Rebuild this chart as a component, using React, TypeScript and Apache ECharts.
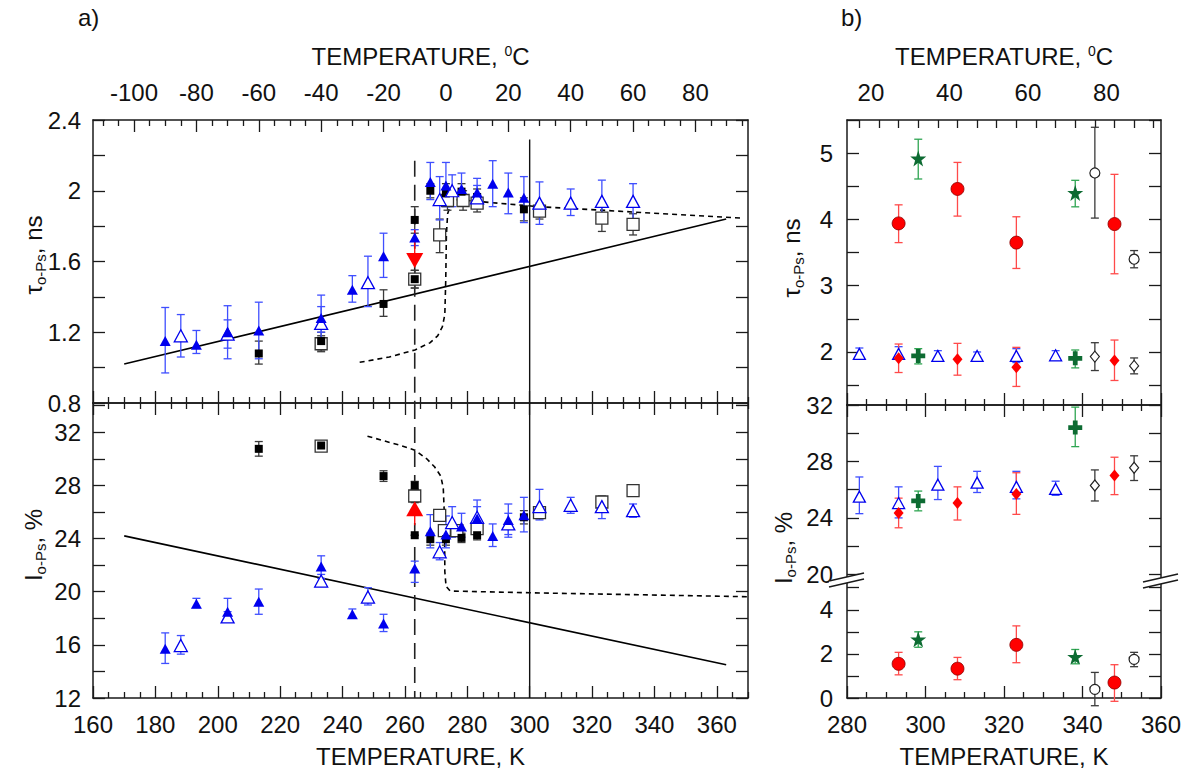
import React, { useEffect, useRef } from 'react';
import * as echarts from 'echarts';

// ---------- axis tick labels ----------
const kMajorA = [160, 180, 200, 220, 240, 260, 280, 300, 320, 340, 360];
const cLabelsA = [-100, -80, -60, -40, -20, 0, 20, 40, 60, 80];
const kMajorB = [280, 300, 320, 340, 360];
const cLabelsB = [20, 40, 60, 80];
const tauLabelsA = [0.8, 1.2, 1.6, 2, 2.4];
const iLabelsA = [12, 16, 20, 24, 28, 32];
const tauLabelsB = [2, 3, 4, 5];
const iUpperLabelsB = [20, 24, 28, 32];
const iLowerLabelsB = [0, 2, 4];

// ---------- panel a, tau (K, tau, low, high) ----------
const aTauBlueFilled = [
  [183.15, 1.15, 0.97, 1.34], [193.15, 1.13, 1.08, 1.21], [203.15, 1.2, 1.11, 1.27],
  [213.15, 1.21, 1.05, 1.37], [233.15, 1.28, 1.15, 1.41], [243.15, 1.44, 1.37, 1.52],
  [253.15, 1.63, 1.51, 1.76], [263.15, 1.735, 1.69, 1.78], [268.15, 2.05, 1.95, 2.16],
  [273.15, 2.03, 1.91, 2.16], [278.15, 2.01, 1.94, 2.1], [283.15, 1.99, 1.91, 2.07],
  [288.15, 2.04, 1.91, 2.17], [293.15, 1.99, 1.87, 2.1], [298.15, 1.96, 1.82, 2.08],
];
const aTauBlueOpen = [
  [188.15, 1.18, 1.06, 1.3], [203.15, 1.19, 1.05, 1.35], [233.15, 1.25, 1.2, 1.345],
  [248.15, 1.48, 1.345, 1.63], [271.15, 1.95, 1.835, 2.08], [275.15, 2.0, 1.91, 2.09],
  [283.15, 1.96, 1.9, 2.03], [303.15, 1.93, 1.81, 2.05], [313.15, 1.93, 1.86, 2.01],
  [323.15, 1.94, 1.85, 2.06], [333.15, 1.94, 1.835, 2.04],
];
const aTauBlackFilled = [
  [213.15, 1.08, 1.02, 1.15], [233.15, 1.15, 1.1, 1.2], [253.15, 1.36, 1.29, 1.44],
  [263.15, 1.835, 1.76, 1.91], [263.15, 1.5, 1.45, 1.55], [268.15, 2.0, 1.96, 2.04],
  [273.15, 1.985, 1.94, 2.04], [278.15, 1.995, 1.95, 2.04], [283.15, 1.965, 1.92, 2.01],
  [298.15, 1.895, 1.83, 1.96],
];
const aTauBlackOpen = [
  [233.15, 1.135, 1.09, 1.18], [263.15, 1.5, 1.45, 1.55], [271.15, 1.75, 1.65, 1.84],
  [273.65, 1.945, 1.89, 2.0], [278.65, 1.945, 1.89, 2.0], [283.15, 1.93, 1.88, 1.98],
  [303.15, 1.885, 1.84, 1.93], [323.15, 1.845, 1.77, 1.92], [333.15, 1.81, 1.75, 1.87],
];
const aTauRed = [[263.15, 1.605, 1.605, 1.78]];
const aTauFit = [[170, 1.02], [363, 1.84]];
const aTauModel = [
  [245.5, 1.03], [255, 1.06], [263.2, 1.1], [268, 1.14], [270.5, 1.18], [272, 1.23],
  [272.8, 1.3], [273.1, 1.5], [273.3, 1.75], [273.7, 1.87], [274.8, 1.93], [276.5, 1.95],
  [303, 1.91], [368, 1.845],
];
const aTauVDash = [[263.15, 2.17], [263.15, 0.8]];
const aTauVSolid = [[300, 2.29], [300, 0.8]];

// ---------- panel a, intensity (K, I, low, high) ----------
const aIBlueFilled = [
  [183.15, 15.7, 14.6, 16.9], [193.15, 19.1, 18.8, 19.5], [203.15, 18.5, 17.8, 19.5],
  [213.15, 19.25, 18.3, 20.2], [233.15, 21.9, 21.0, 22.7], [243.15, 18.3, 18.0, 18.7],
  [253.15, 17.6, 17.0, 18.3], [263.15, 21.75, 20.7, 22.3], [268.15, 24.55, 23.3, 25.8],
  [273.15, 24.3, 23.3, 25.7], [278.15, 24.9, 24.1, 25.9], [283.15, 25.5, 24.6, 26.9],
  [288.15, 24.2, 23.4, 25.1], [293.15, 25.4, 24.1, 26.6], [298.15, 25.75, 24.5, 27.1],
];
const aIBlueOpen = [
  [188.15, 15.95, 15.3, 16.7], [203.15, 18.1, 17.8, 18.5], [233.15, 20.8, 20.4, 21.3],
  [248.15, 19.6, 19.0, 20.3], [271.15, 23.0, 22.4, 23.7], [275.15, 25.2, 24.1, 26.4],
  [283.15, 25.6, 24.9, 26.4], [293.15, 25.1, 24.3, 25.9], [303.15, 26.4, 25.4, 27.7],
  [313.15, 26.5, 25.9, 27.1], [323.15, 26.4, 25.5, 27.1], [333.15, 26.1, 25.6, 26.6],
];
const aIBlackFilled = [
  [213.15, 30.75, 30.2, 31.3], [233.15, 31.0, 30.7, 31.3], [253.15, 28.7, 28.3, 29.1],
  [263.15, 28.0, 27.7, 28.3], [263.15, 24.25, 24.25, 24.25], [268.15, 23.95, 23.5, 24.4],
  [273.15, 23.95, 23.5, 24.4], [278.15, 24.05, 23.7, 24.4], [283.15, 24.25, 23.9, 24.6],
  [298.15, 25.6, 25.1, 26.1],
];
const aIBlackOpen = [
  [233.15, 30.95, 30.7, 31.2], [263.15, 27.2, 26.7, 27.7], [271.15, 25.75, 25.4, 26.1],
  [272.65, 24.6, 24.2, 25.0], [276.65, 24.6, 24.2, 25.0], [283.15, 24.75, 24.4, 25.1],
  [303.15, 25.95, 25.5, 26.4], [323.15, 26.75, 26.3, 27.2], [333.15, 27.6, 27.3, 27.9],
];
const aIRed = [[263.15, 26.25, 25.0, 26.25]];
const aIFit = [[170, 24.2], [363, 14.5]];
const aIModel = [
  [248, 31.7], [258.7, 31.0], [263.2, 30.65], [267, 30.0], [269.5, 29.4], [271.5, 28.7],
  [272.3, 27.8], [272.7, 25.5], [272.8, 21.5], [273.2, 20.4], [274.5, 20.05],
  [300, 19.92], [370, 19.62],
];
const aIVDash = [[263.15, 34.2], [263.15, 12]];
const aIVSolid = [[300, 34.2], [300, 12]];

// ---------- panel b, tau ----------
const bTauRedCircle = [
  [293.15, 3.94, 3.65, 4.22], [308.15, 4.46, 4.05, 4.86], [323.15, 3.65, 3.26, 4.04], [348.15, 3.93, 3.18, 4.68],
];
const bTauGreenStar = [[298.15, 4.92, 4.61, 5.21], [338.15, 4.4, 4.19, 4.59]];
const bTauBlackCircle = [[343.15, 4.7, 4.02, 5.39], [353.15, 3.4, 3.27, 3.53]];
const bTauBlueOpen = [
  [283.15, 1.97, 1.9, 2.06], [293.15, 1.97, 1.89, 2.08], [303.15, 1.94, 1.86, 2.02],
  [313.15, 1.94, 1.87, 2.0], [323.15, 1.94, 1.84, 2.05], [333.15, 1.95, 1.88, 2.02],
];
const bTauRedDiamond = [
  [293.15, 1.905, 1.69, 2.12], [308.15, 1.89, 1.65, 2.13], [323.15, 1.77, 1.48, 2.07], [348.15, 1.87, 1.57, 2.18],
];
const bTauGreenCross = [[298.15, 1.94, 1.82, 2.05], [338.15, 1.905, 1.76, 2.03]];
const bTauBlackDiamond = [[343.15, 1.93, 1.72, 2.14], [353.15, 1.79, 1.67, 1.91]];

// ---------- panel b, intensity (upper part) ----------
const bIBlueOpen = [
  [283.15, 25.5, 24.3, 26.9], [293.15, 25.05, 24.0, 26.2], [303.15, 26.35, 25.3, 27.65],
  [313.15, 26.5, 25.8, 27.3], [323.15, 26.2, 25.35, 27.3], [333.15, 26.05, 25.6, 26.6],
];
const bIRedDiamond = [
  [293.15, 24.35, 23.3, 25.4], [308.15, 25.05, 23.85, 26.2], [323.15, 25.7, 24.25, 27.2], [348.15, 27.0, 25.65, 28.3],
];
const bIGreenCross = [[298.15, 25.2, 24.5, 25.9], [338.15, 30.4, 29.05, 31.85]];
const bIBlackDiamond = [[343.15, 26.3, 25.2, 27.4], [353.15, 27.55, 26.65, 28.4]];

// ---------- panel b, intensity (lower part) ----------
const bIRedCircle = [
  [293.15, 1.55, 1.05, 2.07], [308.15, 1.33, 0.83, 1.84], [323.15, 2.41, 1.6, 3.27], [348.15, 0.7, -0.15, 1.51],
];
const bIGreenStar = [[298.15, 2.66, 2.3, 3.0], [338.15, 1.87, 1.55, 2.2]];
const bIBlackCircle = [[343.15, 0.39, -0.35, 1.16], [353.15, 1.75, 1.42, 2.07]];

// ---------- styling ----------
const FONT = '"Liberation Sans", Arial, Helvetica, sans-serif';
const INK = '#1a1a1a';
const LBL = { fontSize: 24, color: '#111', fontFamily: FONT };
const BLUE = '#0000ee';
const BLUE_E = '#3f4fff';
const BLACK_E = '#3a3a3a';
const RED = '#ff0000';
const RED_E = '#ff4a4a';
const GREEN = '#0d6b32';
const GREEN_E = '#2fa552';
const STAR = 'path://M50,0 L61.8,35.1 L98.1,35.1 L68.8,56.8 L79.4,91.2 L50,70 L20.6,91.2 L31.2,56.8 L1.9,35.1 L38.2,35.1 Z';
const PLUS = 'path://M33,0 H67 V33 H100 V67 H67 V100 H33 V67 H0 V33 H33 Z';

function steps(a: number, b: number, s: number) {
  const r: number[] = [];
  const n = Math.round((b - a) / s);
  for (let i = 0; i <= n; i++) r.push(+(a + i * s).toFixed(4));
  return r;
}
function minus(arr: number[], ex: number[]) {
  return arr.filter((v) => !ex.some((e) => Math.abs(e - v) < 1e-6));
}

function ax(o: any) {
  return {
    type: 'value', gridIndex: o.grid, position: o.pos, min: o.min, max: o.max,
    axisLine: { show: o.line !== false, onZero: false, lineStyle: { color: INK, width: 1.5 } },
    axisTick: o.ticks && o.ticks.length
      ? { show: true, inside: true, length: o.len ?? 12, customValues: o.ticks, lineStyle: { color: INK, width: 1.3 } }
      : { show: false },
    minorTick: { show: false },
    splitLine: { show: false },
    axisLabel: o.labels ? { show: true, customValues: o.labels, margin: o.margin ?? 12, ...LBL } : { show: false },
    name: o.name, nameLocation: 'middle', nameGap: o.nameGap ?? 40,
    nameTextStyle: { ...LBL, rich: { sup: { fontSize: 14, verticalAlign: 'top', fontFamily: FONT, color: '#111' } } },
  };
}

function eb(data: number[][], xi: number, yi: number, color: string, cap = 4) {
  return {
    type: 'custom', xAxisIndex: xi, yAxisIndex: yi, data, clip: false, silent: true, z: 3,
    encode: { x: 0, y: 1 },
    renderItem: (_p: any, api: any) => {
      const x = api.value(0), lo = api.value(2), hi = api.value(3);
      const a = api.coord([x, lo]), b = api.coord([x, hi]);
      const st = { stroke: color, lineWidth: 1.3 };
      const ch: any[] = [{ type: 'line', shape: { x1: a[0], y1: a[1], x2: b[0], y2: b[1] }, style: st }];
      if (cap > 0) {
        ch.push({ type: 'line', shape: { x1: a[0] - cap, y1: a[1], x2: a[0] + cap, y2: a[1] }, style: st });
        ch.push({ type: 'line', shape: { x1: b[0] - cap, y1: b[1], x2: b[0] + cap, y2: b[1] }, style: st });
      }
      return { type: 'group', children: ch };
    },
  };
}

function sc(data: number[][], xi: number, yi: number, symbol: string, size: any, color: string, border?: string, bw = 0, rotate = 0, z = 5) {
  return {
    type: 'scatter', xAxisIndex: xi, yAxisIndex: yi, silent: true, z,
    data: data.map((d) => [d[0], d[1]]),
    symbol, symbolSize: size, symbolRotate: rotate,
    itemStyle: { color, borderColor: border || color, borderWidth: bw, opacity: 1 },
  };
}

function ln(data: number[][], xi: number, yi: number, type: any, width = 1.5, color = '#000') {
  return {
    type: 'line', xAxisIndex: xi, yAxisIndex: yi, data, symbol: 'none', silent: true, z: 2,
    lineStyle: { color, width, type }, clip: true,
  };
}

function yName(x: number, y: number, main: string, sub: string, tail: string) {
  return {
    type: 'text', x, y, rotation: Math.PI / 2,
    style: {
      text: `{m|${main}}{s|${sub}}{m|${tail}}`,
      align: 'center', verticalAlign: 'middle',
      rich: {
        m: { fontSize: 24, fontFamily: FONT, fill: '#111', lineHeight: 30 },
        s: { fontSize: 15, fontFamily: FONT, fill: '#111', padding: [14, 0, 0, 0], lineHeight: 30 },
      },
    },
  };
}

function buildOption() {
  const kMinA = minus(steps(165, 370, 5), kMajorA);
  const cMinA = minus(steps(-110, 95, 5), cLabelsA);
  const kMinB = minus(steps(285, 355, 5), kMajorB);
  const cName = 'TEMPERATURE, {sup|0}C';

  const xAxis = [
    ax({ grid: 0, pos: 'bottom', min: 160, max: 370, ticks: kMajorA }), // 0
    ax({ grid: 0, pos: 'bottom', min: 160, max: 370, ticks: kMinA, len: 6, line: false }), // 1
    ax({ grid: 0, pos: 'top', min: 160 - 273.15, max: 370 - 273.15, ticks: cLabelsA, labels: cLabelsA, name: cName, nameGap: 52, margin: 16 }), // 2
    ax({ grid: 0, pos: 'top', min: 160 - 273.15, max: 370 - 273.15, ticks: cMinA, len: 6, line: false }), // 3
    ax({ grid: 1, pos: 'bottom', min: 160, max: 370, ticks: kMajorA, labels: kMajorA, name: 'TEMPERATURE, K', nameGap: 46, margin: 14 }), // 4
    ax({ grid: 1, pos: 'bottom', min: 160, max: 370, ticks: kMinA, len: 6, line: false }), // 5
    ax({ grid: 1, pos: 'top', min: 160, max: 370, ticks: kMajorA }), // 6
    ax({ grid: 1, pos: 'top', min: 160, max: 370, ticks: kMinA, len: 6, line: false }), // 7
    ax({ grid: 2, pos: 'bottom', min: 280, max: 360, ticks: kMajorB }), // 8
    ax({ grid: 2, pos: 'bottom', min: 280, max: 360, ticks: kMinB, len: 6, line: false }), // 9
    ax({ grid: 2, pos: 'top', min: 280 - 273.15, max: 360 - 273.15, ticks: steps(10, 85, 5), len: 8 }), // 10
    ax({ grid: 2, pos: 'top', min: 13.9, max: 93.9, labels: cLabelsB, line: false, name: cName, nameGap: 52, margin: 16 }), // 11
    ax({ grid: 3, pos: 'top', min: 280, max: 360, ticks: kMajorB }), // 12
    ax({ grid: 3, pos: 'top', min: 280, max: 360, ticks: kMinB, len: 6, line: false }), // 13
    ax({ grid: 4, pos: 'bottom', min: 280, max: 360, ticks: kMajorB, labels: kMajorB, name: 'TEMPERATURE, K', nameGap: 46, margin: 14 }), // 14
    ax({ grid: 4, pos: 'bottom', min: 280, max: 360, ticks: kMinB, len: 6, line: false }), // 15
  ];

  const yAxis = [
    ax({ grid: 0, pos: 'left', min: 0.8, max: 2.4, ticks: steps(0.8, 2.4, 0.2), labels: tauLabelsA }), // 0
    ax({ grid: 0, pos: 'right', min: 0.8, max: 2.4, ticks: steps(0.8, 2.4, 0.2) }), // 1
    ax({ grid: 1, pos: 'left', min: 12, max: 34.2, ticks: steps(12, 34, 2), labels: iLabelsA }), // 2
    ax({ grid: 1, pos: 'right', min: 12, max: 34.2, ticks: steps(12, 34, 2) }), // 3
    ax({ grid: 2, pos: 'left', min: 1.2, max: 5.5, ticks: steps(1.5, 5.5, 0.5), labels: tauLabelsB, margin: 14 }), // 4
    ax({ grid: 2, pos: 'right', min: 1.2, max: 5.5, ticks: steps(1.5, 5.5, 0.5) }), // 5
    ax({ grid: 3, pos: 'left', min: 19.6, max: 32, ticks: steps(20, 32, 2), labels: iUpperLabelsB, margin: 14 }), // 6
    ax({ grid: 3, pos: 'right', min: 19.6, max: 32, ticks: steps(20, 32, 2) }), // 7
    ax({ grid: 4, pos: 'left', min: 0, max: 5.35, ticks: steps(0, 5, 1), labels: iLowerLabelsB, margin: 14 }), // 8
    ax({ grid: 4, pos: 'right', min: 0, max: 5.35, ticks: steps(0, 5, 1) }), // 9
  ];

  const series: any[] = [
    // panel a, tau
    ln(aTauFit, 0, 0, 'solid', 1.6),
    ln(aTauModel, 0, 0, [5, 4], 1.6),
    ln(aTauVDash, 0, 0, [16, 8], 1.6, '#222'),
    ln(aTauVSolid, 0, 0, 'solid', 1.4, '#111'),
    eb(aTauBlackOpen, 0, 0, BLACK_E),
    eb(aTauBlackFilled, 0, 0, BLACK_E),
    eb(aTauBlueOpen, 0, 0, BLUE_E),
    eb(aTauBlueFilled, 0, 0, BLUE_E),
    eb(aTauRed, 0, 0, RED, 0),
    sc(aTauBlackOpen, 0, 0, 'rect', 12, '#fff', '#333', 1.3),
    sc(aTauBlackFilled, 0, 0, 'rect', 8, '#000'),
    sc(aTauBlueOpen, 0, 0, 'triangle', [13, 12], '#fff', BLUE, 1.3),
    sc(aTauBlueFilled, 0, 0, 'triangle', [11, 10], BLUE),
    sc(aTauRed, 0, 0, 'triangle', [17, 15], RED, RED, 0, 180, 6),
    // panel a, intensity
    ln(aIFit, 4, 2, 'solid', 1.6),
    ln(aIModel, 4, 2, [5, 4], 1.6),
    ln(aIVDash, 4, 2, [16, 8], 1.6, '#222'),
    ln(aIVSolid, 4, 2, 'solid', 1.4, '#111'),
    eb(aIBlackOpen, 4, 2, BLACK_E),
    eb(aIBlackFilled, 4, 2, BLACK_E),
    eb(aIBlueOpen, 4, 2, BLUE_E),
    eb(aIBlueFilled, 4, 2, BLUE_E),
    eb(aIRed, 4, 2, RED, 0),
    sc(aIBlackOpen, 4, 2, 'rect', 12, '#fff', '#333', 1.3),
    sc(aIBlackFilled, 4, 2, 'rect', 8, '#000'),
    sc(aIBlueOpen, 4, 2, 'triangle', [13, 12], '#fff', BLUE, 1.3),
    sc(aIBlueFilled, 4, 2, 'triangle', [11, 10], BLUE),
    sc(aIRed, 4, 2, 'triangle', [17, 15], RED, RED, 0, 0, 6),
    // panel b, tau
    eb(bTauRedCircle, 8, 4, RED_E),
    eb(bTauGreenStar, 8, 4, GREEN_E),
    eb(bTauBlackCircle, 8, 4, BLACK_E),
    eb(bTauBlueOpen, 8, 4, BLUE_E),
    eb(bTauRedDiamond, 8, 4, RED_E),
    eb(bTauGreenCross, 8, 4, GREEN_E),
    eb(bTauBlackDiamond, 8, 4, BLACK_E),
    sc(bTauRedCircle, 8, 4, 'circle', 13, RED, '#8a0000', 0.8),
    sc(bTauGreenStar, 8, 4, STAR, 16, GREEN),
    sc(bTauBlackCircle, 8, 4, 'circle', 10, '#fff', '#222', 1.2),
    sc(bTauBlueOpen, 8, 4, 'triangle', [12, 11], '#fff', BLUE, 1.3),
    sc(bTauRedDiamond, 8, 4, 'diamond', [10, 12], RED),
    sc(bTauGreenCross, 8, 4, PLUS, 14, GREEN),
    sc(bTauBlackDiamond, 8, 4, 'diamond', [9, 11], '#fff', '#222', 1.2),
    // panel b, intensity upper
    eb(bIBlueOpen, 12, 6, BLUE_E),
    eb(bIRedDiamond, 12, 6, RED_E),
    eb(bIGreenCross, 12, 6, GREEN_E),
    eb(bIBlackDiamond, 12, 6, BLACK_E),
    sc(bIBlueOpen, 12, 6, 'triangle', [12, 11], '#fff', BLUE, 1.3),
    sc(bIRedDiamond, 12, 6, 'diamond', [10, 12], RED),
    sc(bIGreenCross, 12, 6, PLUS, 14, GREEN),
    sc(bIBlackDiamond, 12, 6, 'diamond', [9, 11], '#fff', '#222', 1.2),
    // panel b, intensity lower
    eb(bIRedCircle, 14, 8, RED_E),
    eb(bIGreenStar, 14, 8, GREEN_E),
    eb(bIBlackCircle, 14, 8, BLACK_E),
    sc(bIRedCircle, 14, 8, 'circle', 13, RED, '#8a0000', 0.8),
    sc(bIGreenStar, 14, 8, STAR, 16, GREEN),
    sc(bIBlackCircle, 14, 8, 'circle', 10, '#fff', '#222', 1.2),
  ];

  const brk = (x1: number, x2: number, y: number) => [
    { type: 'polygon', shape: { points: [[x1, y + 4], [x2, y - 4], [x2, y + 2], [x1, y + 10]] }, style: { fill: '#fff' }, z: 100 },
    { type: 'line', shape: { x1, y1: y + 4, x2, y2: y - 4 }, style: { stroke: INK, lineWidth: 1.5 }, z: 101 },
    { type: 'line', shape: { x1, y1: y + 10, x2, y2: y + 2 }, style: { stroke: INK, lineWidth: 1.5 }, z: 101 },
  ];

  const graphic: any[] = [
    { type: 'text', x: 78, y: 5, style: { text: 'a)', font: `24px ${FONT}`, fill: '#111' } },
    { type: 'text', x: 841, y: 5, style: { text: 'b)', font: `24px ${FONT}`, fill: '#111' } },
    yName(33, 255, 'τ', 'o-Ps', ', ns'),
    yName(33, 545, 'I', 'o-Ps', ', %'),
    yName(791, 258, 'τ', 'o-Ps', ', ns'),
    yName(783, 548, 'I', 'o-Ps', ', %'),
    ...brk(829, 864, 577),
    ...brk(1143, 1178, 578),
  ];

  return {
    animation: false,
    backgroundColor: '#fff',
    grid: [
      { left: 93, top: 120, width: 655, height: 283 },
      { left: 93, top: 403, width: 655, height: 295 },
      { left: 847, top: 120, width: 314, height: 285 },
      { left: 847, top: 405, width: 314, height: 175 },
      { left: 847, top: 580, width: 314, height: 118 },
    ],
    xAxis, yAxis, series, graphic,
  };
}

export default function App() {
  const ref = useRef<HTMLDivElement>(null);
  useEffect(() => {
    const chart = echarts.init(ref.current!, null, { renderer: 'svg' });
    chart.setOption(buildOption() as any);
    return () => chart.dispose();
  }, []);
  return <div ref={ref} style={{ position: 'fixed', left: 0, top: 0, width: 1184, height: 769, background: '#fff' }} />;
}
